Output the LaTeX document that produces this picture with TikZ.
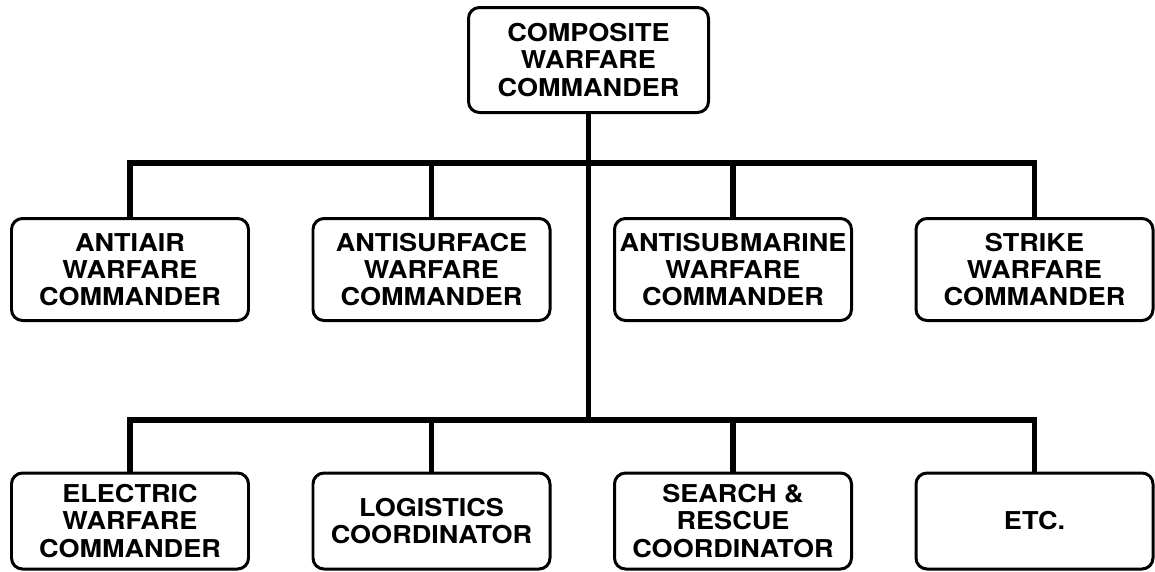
\documentclass[tikz,border=0pt]{standalone}
\usepackage{fontspec}
\setmainfont{TeX Gyre Heros}[FakeStretch=1.1]
\usetikzlibrary{positioning}

\begin{document}
\begin{tikzpicture}[cmdbox/.style={draw, line width=1.7pt, rounded corners=0.22cm,
      minimum width=4.74cm, minimum height=2.04cm, inner sep=0pt, align=center,
      font=\bfseries\fontsize{14}{15.4}\selectfont},
    lowbox/.style={cmdbox, minimum height=1.92cm},
    link/.style={line width=2.9pt}, node distance=6.03cm]
      \useasboundingbox (0,0) rectangle (23.1,-11.42);

      \node [cmdbox, minimum width=4.8cm, minimum height=2.1cm] (CWC) at (11.77,-1.2) {COMPOSITE\\WARFARE\\COMMANDER};
      \coordinate (upbus) at (0,-3.26);
      \coordinate (lowbus) at (0,-8.4);

      % warfare commanders
      \node [cmdbox] (AAW) at (2.6,-5.39) {ANTIAIR\\WARFARE\\COMMANDER};
      \node [cmdbox, right of=AAW] (ASUW) {ANTISURFACE\\WARFARE\\COMMANDER};
      \node [cmdbox, right of=ASUW] (ASW) {ANTISUBMARINE\\WARFARE\\COMMANDER};
      \node [cmdbox, right of=ASW] (STW) {STRIKE\\WARFARE\\COMMANDER};

      % coordinators
      \node [lowbox] (EW) at (2.6,-10.42) {ELECTRIC\\WARFARE\\COMMANDER};
      \node [lowbox, right of=EW] (LOG) {LOGISTICS\\COORDINATOR};
      \node [lowbox, right of=LOG] (SAR) {SEARCH \&\\RESCUE\\COORDINATOR};
      \node [lowbox, right of=SAR] (ETC) {ETC.};

      \draw [link] (CWC.south) -- (CWC.south |- lowbus);

      \draw [link] (AAW.north) -- (AAW.north |- upbus) -- (STW.north |- upbus) -- (STW.north);
      \draw [link] (ASUW.north) -- (ASUW.north |- upbus);
      \draw [link] (ASW.north) -- (ASW.north |- upbus);

      \draw [link] (EW.north) -- (EW.north |- lowbus) -- (ETC.north |- lowbus) -- (ETC.north);
      \draw [link] (LOG.north) -- (LOG.north |- lowbus);
      \draw [link] (SAR.north) -- (SAR.north |- lowbus);
  \end{tikzpicture}
\end{document}
